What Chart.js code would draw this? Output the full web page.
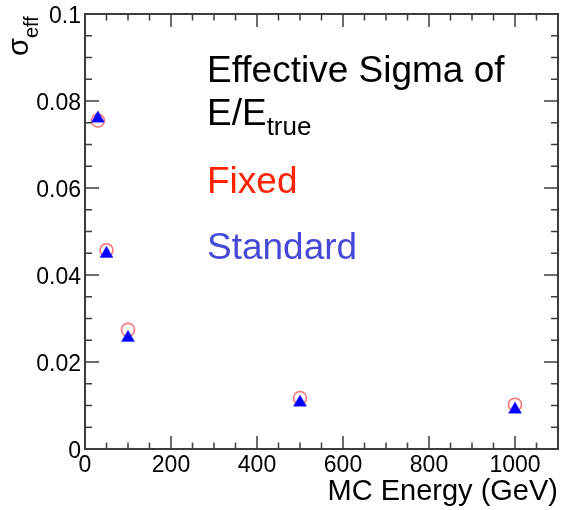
<!DOCTYPE html>
<html>
<head>
<meta charset="utf-8">
<script src="https://cdn.jsdelivr.net/npm/chart.js@4/dist/chart.umd.min.js"></script>
<style>
  html, body { margin: 0; padding: 0; background: #fff; overflow: hidden; }
  /* 5px wider than the window: the layout always keeps 8px on the right */
  #wrap { width: 566px; height: 510px; }
</style>
</head>
<body>
<div id="wrap"><canvas id="sigma-chart"></canvas></div>
<script>
// data
const energies = [30, 50, 100, 500, 1000];
const fixedSigma = [0.0755, 0.0457, 0.0274, 0.0117, 0.0102];
const standardSigma = [0.0760, 0.0449, 0.0256, 0.0107, 0.0091];

const xMajor = 200;
const yMajor = 0.02;

const FONT = '"Liberation Sans", Arial, Helvetica, sans-serif';
const frameColor = '#3c3c3c';

function toPoints(xs, ys) {
  return xs.map((x, i) => ({ x: x, y: ys[i] }));
}

// ROOT style frame: ticks pointing inward on all four sides
const frameTicks = {
  id: 'frameTicks',
  afterDatasetsDraw(chart) {
    const { ctx, chartArea: a, scales } = chart;
    ctx.save();
    ctx.strokeStyle = frameColor;
    ctx.lineWidth = 1.5;
    ctx.beginPath();
    scales.x.ticks.forEach(t => {
      const px = scales.x.getPixelForValue(t.value);
      const major = Math.abs(t.value / xMajor - Math.round(t.value / xMajor)) < 1e-6;
      const len = major ? 13 : 6.5;
      ctx.moveTo(px, a.bottom); ctx.lineTo(px, a.bottom - len);
      ctx.moveTo(px, a.top); ctx.lineTo(px, a.top + len);
    });
    scales.y.ticks.forEach(t => {
      const py = scales.y.getPixelForValue(t.value);
      const major = Math.abs(t.value / yMajor - Math.round(t.value / yMajor)) < 1e-6;
      const len = major ? 14 : 7;
      ctx.moveTo(a.left, py); ctx.lineTo(a.left + len, py);
      ctx.moveTo(a.right, py); ctx.lineTo(a.right - len, py);
    });
    ctx.stroke();
    ctx.lineWidth = 2;
    ctx.strokeRect(a.left, a.top, a.right - a.left, a.bottom - a.top);
    ctx.restore();
  },
  afterDraw(chart) {
    const ctx = chart.ctx;
    ctx.save();
    // y axis title, sigma_eff, rotated at the top
    ctx.translate(28, 56);
    ctx.rotate(-Math.PI / 2);
    ctx.fillStyle = '#000';
    ctx.textAlign = 'left';
    ctx.textBaseline = 'alphabetic';
    ctx.font = '29px ' + FONT;
    ctx.fillText('σ', 0, 0);
    const w = ctx.measureText('σ').width;
    ctx.font = '20px ' + FONT;
    ctx.fillText('eff', w, 10);
    ctx.restore();

    // text box
    ctx.save();
    ctx.textAlign = 'left';
    ctx.textBaseline = 'alphabetic';
    ctx.fillStyle = '#000';
    ctx.font = '37px ' + FONT;
    ctx.fillText('Effective Sigma of', 207, 82);
    ctx.fillText('E/E', 207, 125);
    const ew = ctx.measureText('E/E').width;
    ctx.font = '26px ' + FONT;
    ctx.fillText('true', 207 + ew, 135);
    ctx.font = '37px ' + FONT;
    ctx.fillStyle = '#ff2200';
    ctx.fillText('Fixed', 207, 193);
    ctx.fillStyle = '#4848d8';
    ctx.fillText('Standard', 207, 259);
    ctx.restore();
  }
};

const sigmaChart = new Chart(document.getElementById('sigma-chart'), {
  type: 'scatter',
  data: {
    datasets: [
      {
        label: 'Standard',
        data: toPoints(energies, standardSigma),
        pointStyle: 'triangle',
        pointRadius: 7.5,
        backgroundColor: '#0000ff',
        borderColor: '#2020ff',
        borderWidth: 0.5,
        order: 1
      },
      {
        label: 'Fixed',
        data: toPoints(energies, fixedSigma),
        pointStyle: 'circle',
        pointRadius: 6.5,
        backgroundColor: 'rgba(0,0,0,0)',
        borderColor: '#ff7070',
        borderWidth: 1.5,
        order: 2
      }
    ]
  },
  options: {
    responsive: true,
    maintainAspectRatio: false,
    animation: false,
    events: [],
    layout: { padding: { top: 14, right: 3, left: 0, bottom: 0 } },
    plugins: {
      legend: { display: false },
      tooltip: { enabled: false }
    },
    scales: {
      x: {
        type: 'linear',
        min: 0,
        max: 1100,
        afterFit(scale) {
          scale.height = 61;
          scale.paddingLeft = 0;
          scale.paddingRight = 0;
        },
        grid: { display: false, drawTicks: false },
        border: { display: false },
        ticks: {
          stepSize: 50,
          autoSkip: false,
          maxRotation: 0,
          padding: 3,
          color: '#000',
          font: { family: FONT, size: 23 },
          callback: v => (v % xMajor === 0 && v <= 1000) ? String(v) : ''
        },
        title: {
          display: true,
          text: 'MC Energy (GeV)',
          align: 'end',
          color: '#000',
          font: { family: FONT, size: 29 },
          padding: { top: 0, bottom: 1 }
        }
      },
      y: {
        type: 'linear',
        min: 0,
        max: 0.1,
        afterFit(scale) {
          scale.width = 85;
          scale.paddingTop = 0;
          scale.paddingBottom = 0;
        },
        grid: { display: false, drawTicks: false },
        border: { display: false },
        ticks: {
          stepSize: 0.005,
          autoSkip: false,
          padding: 4,
          labelOffset: 3,
          color: '#000',
          font: { family: FONT, size: 23 },
          callback: v => {
            const k = Math.round(v * 1000);
            return k % 20 === 0 ? String(k / 1000) : '';
          }
        }
      }
    }
  },
  plugins: [frameTicks]
});
</script>
</body>
</html>
